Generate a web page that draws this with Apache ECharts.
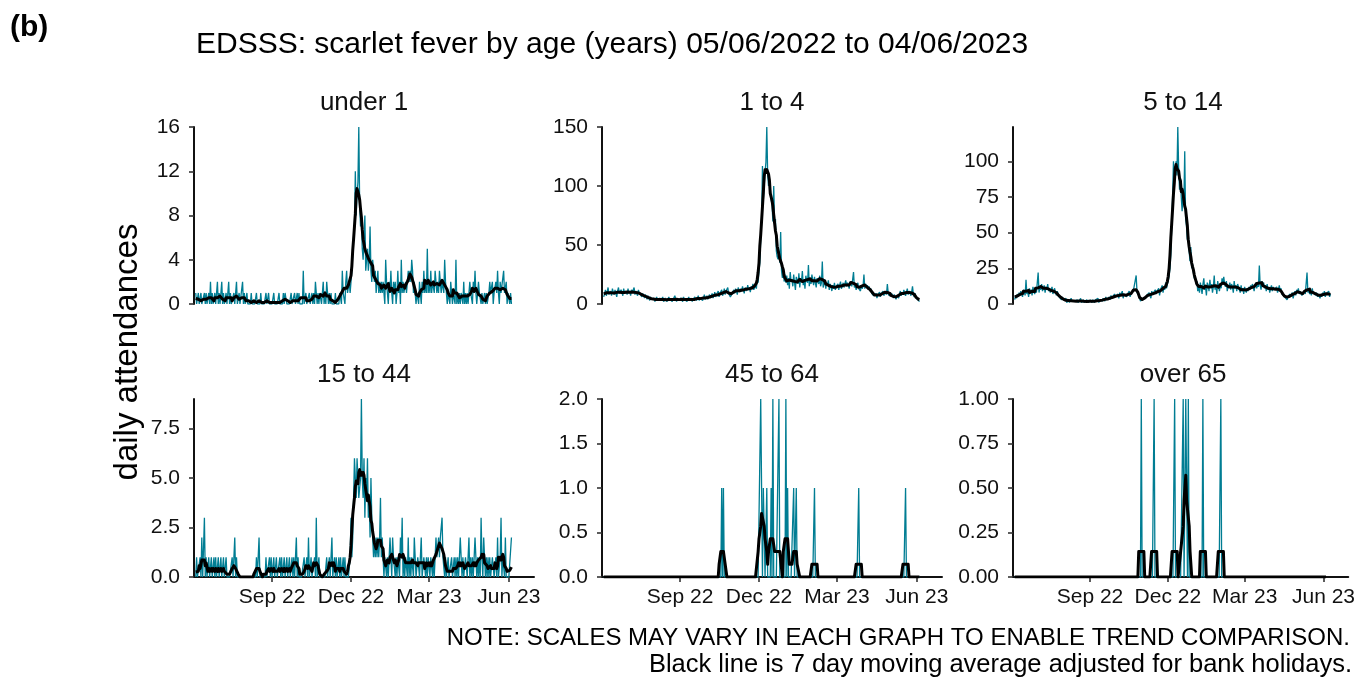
<!DOCTYPE html>
<html>
<head>
<meta charset="utf-8">
<script src="https://cdn.jsdelivr.net/npm/echarts@6/dist/echarts.min.js"></script>
<style>
  html, body { margin: 0; padding: 0; background: #ffffff; }
  #chart { width: 1358px; height: 677px; }
</style>
</head>
<body>
<div id="chart"></div>
<script>
// Daily scarlet fever attendances, day 0 = 05/06/2022 ... day 364 = 04/06/2023.
// Each row is one calendar month (June 2022 starts on the 5th, June 2023 ends on the 4th).
const under1 = [
  1,0,0,1,0,0,1,0,0,0,1,0,1,0,0,1,0,2,0,1,0,0,1,0,0,2,
  0,1,0,0,2,0,1,0,0,1,0,0,2,0,1,0,0,0,1,0,1,2,0,0,1,0,0,0,2,0,1,
  0,0,1,0,0,0,0,1,0,0,0,0,0,1,0,0,0,0,1,0,0,0,0,0,1,0,0,1,0,0,0,
  0,0,1,0,0,0,0,0,1,0,0,0,0,1,0,1,1,0,0,0,0,0,1,0,0,0,1,0,0,1,
  0,1,0,0,0,0,3,0,0,1,0,0,0,1,0,0,1,0,1,0,2,1,0,1,0,1,1,0,1,2,0,
  1,0,2,1,0,1,0,1,0,0,0,0,1,0,0,0,0,1,1,0,3,1,1,0,2,3,1,1,2,1,
  2,3,3,6,7,12,8,10,11,16,9,7,8,5,4,6,8,3,4,5,3,4,7,3,2,4,3,2,3,1,2,
  3,1,2,1,2,1,2,1,0,4,2,1,0,2,1,3,1,0,2,1,2,0,1,3,1,2,0,4,1,2,1,
  1,2,1,2,3,2,3,2,4,3,1,2,1,0,1,1,0,2,1,0,2,1,3,1,2,1,5,1,
  2,1,3,1,2,2,1,3,2,1,2,1,3,2,1,2,2,1,4,2,1,0,1,1,0,2,1,0,1,1,0,
  4,0,1,0,1,0,1,1,0,2,0,1,0,1,0,1,2,1,1,0,2,1,3,1,0,1,2,1,1,0,
  1,0,0,1,0,1,0,0,1,2,1,1,2,0,1,1,2,1,3,1,0,2,1,1,1,3,1,1,2,0,1,
  1,0,1,0
];

const age1to4 = [
  6,9,12,7,10,14,8,9,11,7,13,10,8,12,9,6,11,14,9,8,12,10,7,13,9,11,
  10,8,13,9,11,7,12,10,9,14,8,11,10,7,12,9,10,8,6,9,7,5,8,6,4,7,5,3,6,4,5,
  3,5,2,4,6,3,4,2,5,3,4,6,2,3,5,4,2,3,6,4,3,5,2,4,3,7,4,2,5,3,4,
  3,5,4,2,6,4,3,5,2,4,6,3,4,5,2,4,3,6,5,3,4,7,3,5,4,6,3,5,8,4,
  5,7,4,6,8,5,6,9,5,7,10,6,8,7,11,6,9,8,12,7,9,13,8,11,10,14,9,8,6,7,9,
  10,12,9,13,11,8,14,12,10,13,11,15,12,9,14,13,11,16,12,14,10,15,13,17,12,14,16,13,23,18,
  28,35,55,70,117,88,100,112,120,150,110,100,105,98,88,85,70,100,68,72,45,40,38,45,35,61,28,22,30,19,25,
  18,24,16,22,13,27,19,21,15,25,18,12,23,20,17,26,14,22,19,28,16,21,13,24,20,18,33,15,22,17,25,
  20,16,23,18,14,22,19,17,24,15,18,36,14,17,21,13,18,16,20,12,17,15,11,16,13,18,12,15,
  14,17,12,16,19,13,15,18,14,17,20,15,18,16,13,19,17,15,21,27,14,16,12,15,18,13,14,11,16,13,15,
  25,13,17,14,16,12,15,11,13,9,10,7,8,6,9,5,8,7,10,6,9,8,11,7,10,9,8,17,9,7,
  8,6,9,7,5,8,6,4,7,8,5,9,11,7,10,8,12,9,7,10,13,8,9,11,7,10,15,8,6,9,5,
  4,6,3,2
];

const age5to14 = [
  3,6,4,7,5,8,6,9,7,5,10,8,6,17,7,9,5,11,8,10,6,12,9,7,10,8,
  9,22,8,12,10,14,9,11,13,8,12,10,14,9,11,8,10,12,7,9,11,8,6,9,7,5,6,4,3,5,3,
  3,2,4,1,2,3,1,2,4,2,1,3,2,1,2,3,1,2,2,4,1,2,3,1,2,1,3,2,1,2,3,
  2,1,3,2,1,3,2,2,4,1,3,2,3,2,4,3,2,5,3,4,2,5,3,6,4,5,3,7,5,6,
  5,7,4,8,6,5,9,4,7,6,8,5,7,6,9,5,7,8,6,10,9,9,20,8,8,6,4,2,3,1,4,
  3,5,4,6,7,5,8,6,4,9,7,8,6,10,7,9,8,11,6,10,9,13,8,12,10,15,11,14,16,20,
  25,35,55,75,100,85,90,100,90,124,95,80,88,75,65,78,70,107,60,55,45,50,38,30,40,25,28,22,18,20,14,
  16,9,13,8,15,11,7,14,18,10,12,6,15,13,9,17,11,14,8,12,20,10,13,7,16,12,9,14,11,18,15,
  19,14,12,16,9,13,11,15,10,14,12,8,16,11,13,9,14,12,10,8,13,9,11,7,12,10,8,11,
  9,12,10,13,11,14,12,9,13,15,11,14,12,27,13,10,16,12,15,11,13,9,14,10,12,8,11,13,9,12,10,
  11,9,12,8,10,13,9,11,7,8,6,5,4,6,3,5,4,7,5,6,8,4,7,9,6,10,8,11,7,9,
  8,6,7,5,9,7,6,22,8,10,7,9,6,11,8,7,9,6,8,5,7,6,4,7,5,8,6,9,5,7,8,
  6,9,5,7
];

const age15to44 = [
  0,1,0,0,0,1,0,2,0,0,3,0,1,0,0,1,0,0,1,0,0,1,0,1,0,0,
  1,0,0,1,0,0,1,0,0,1,0,0,0,0,0,0,1,0,0,2,0,1,0,0,0,0,0,0,0,0,0,
  0,0,0,0,0,0,0,0,0,0,0,0,0,1,0,0,2,0,0,0,0,0,0,0,1,0,0,0,1,0,1,
  0,0,1,0,0,1,0,0,0,1,0,1,0,0,1,0,0,1,0,0,1,0,0,1,0,1,0,1,2,0,
  1,0,0,0,0,0,0,1,0,0,1,0,2,0,0,1,0,0,0,1,0,3,0,0,1,0,0,0,0,0,0,
  0,0,1,0,0,1,0,1,2,0,0,1,0,1,0,0,1,0,1,0,0,1,0,1,0,0,0,0,0,1,
  3,1,2,4,6,5,4,6,5,4,4,5,9,5,4,6,3,5,4,6,3,4,2,5,3,2,1,2,1,2,1,
  2,1,2,4,1,2,1,0,1,1,0,1,0,1,2,1,0,2,1,1,0,1,0,1,1,0,2,1,3,0,1,
  0,1,1,0,2,0,1,0,1,1,0,2,1,0,0,1,1,0,1,2,0,0,1,1,0,1,0,1,
  1,0,1,1,0,1,0,1,2,1,1,2,1,2,2,3,1,1,0,1,0,0,1,0,0,0,1,0,0,1,0,
  1,0,1,0,0,2,1,0,1,0,0,1,1,0,0,2,0,1,0,1,0,0,2,1,0,1,0,1,0,3,
  1,0,2,1,0,1,0,1,0,1,0,0,1,1,0,0,1,0,2,0,0,1,3,0,1,1,0,2,0,0,0,
  0,0,0,2
];

// Sparse age groups: [day, attendances]; every other day had none.
const age45to64Days = [
  [136,1],[138,1],[181,2],[182,1],[184,1],[185,1],[188,1],[193,1],[195,2],
  [202,2],[210,2],[212,1],[219,1],[222,1],[243,1],[294,1],[348,1]
];
const over65Days = [
  [148,1],[163,1],[187,1],[197,1],[200,1],[201,1],[203,1],[220,1],[241,1]
];

const panelTitles = ['under 1', '1 to 4', '5 to 14', '15 to 44', '45 to 64', 'over 65'];

// x ticks: first of Sep 2022, Dec 2022, Mar 2023, Jun 2023 as day numbers
const xTickDays = [88, 179, 269, 361];
const xTickLabels = ['Sep 22', 'Dec 22', 'Mar 23', 'Jun 23'];

const yTicksUnder1 = [0, 4, 8, 12, 16];
const yTicks1to4 = [0, 50, 100, 150];
const yTicks5to14 = [0, 25, 50, 75, 100];
const yTicks15to44 = [0, 2.5, 5, 7.5];
const yTicks45to64 = [0, 0.5, 1, 1.5, 2];
const yTicksOver65 = [0, 0.25, 0.5, 0.75, 1];

// ---- helpers ----
const nDays = under1.length;

function expandDays(list) {
  const out = new Array(nDays).fill(0);
  list.forEach(([day, count]) => { out[day] = count; });
  return out;
}

// centred 7 day moving average (shorter window at the ends)
function movingAverage7(values) {
  return values.map((_, i) => {
    let sum = 0, n = 0;
    for (let k = i - 3; k <= i + 3; k++) {
      if (k >= 0 && k < values.length) { sum += values[k]; n++; }
    }
    return sum / n;
  });
}

const panels = [
  { values: under1, ticks: yTicksUnder1, decimals: 0 },
  { values: age1to4, ticks: yTicks1to4, decimals: 0 },
  { values: age5to14, ticks: yTicks5to14, decimals: 0 },
  { values: age15to44, ticks: yTicks15to44, decimals: 1 },
  { values: expandDays(age45to64Days), ticks: yTicks45to64, decimals: 1 },
  { values: expandDays(over65Days), ticks: yTicksOver65, decimals: 2 }
];

// ---- layout ----
const FONT = '"Liberation Sans", Arial, Helvetica, sans-serif';
const TEXT = '#111111';
const TEAL = '#007d93';
const colLeft = [194, 602, 1013];
const panelWidth = 340;
const rowTop = [127, 399];
const rowHeight = [177, 178];
const xMin = -2, xMax = 390;

const grids = [], xAxes = [], yAxes = [], series = [], graphics = [];

panels.forEach((p, i) => {
  const row = Math.floor(i / 3), col = i % 3;
  const bottomRow = row === 1;
  grids.push({ left: colLeft[col], top: rowTop[row], width: panelWidth, height: rowHeight[row], containLabel: false });

  xAxes.push({
    gridIndex: i, type: 'value', min: xMin, max: xMax,
    splitLine: { show: false },
    axisLine: { show: bottomRow, onZero: false, lineStyle: { color: '#111', width: 2 } },
    axisTick: { show: bottomRow, customValues: xTickDays, length: 5, lineStyle: { color: '#333', width: 1.6 } },
    axisLabel: {
      show: bottomRow, customValues: xTickDays, margin: 10,
      fontFamily: FONT, fontSize: 21, color: TEXT,
      formatter: v => xTickLabels[xTickDays.indexOf(v)] || ''
    }
  });

  yAxes.push({
    gridIndex: i, type: 'value', min: 0, max: 'dataMax',
    splitLine: { show: false },
    axisLine: { show: true, onZero: false, lineStyle: { color: '#111', width: 2 } },
    axisTick: { show: true, customValues: p.ticks, length: 5, lineStyle: { color: '#333', width: 1.6 } },
    axisLabel: {
      customValues: p.ticks, margin: 14,
      fontFamily: FONT, fontSize: 21, color: TEXT,
      formatter: v => Number(v).toFixed(p.decimals)
    }
  });

  series.push({
    type: 'line', xAxisIndex: i, yAxisIndex: i,
    data: p.values.map((v, d) => [d, v]),
    showSymbol: false, sampling: false, z: 2,
    lineStyle: { color: TEAL, width: 1.3 }
  });
  series.push({
    type: 'line', xAxisIndex: i, yAxisIndex: i,
    data: movingAverage7(p.values).map((v, d) => [d, v]),
    showSymbol: false, z: 3,
    lineStyle: { color: '#000', width: 3, join: 'round' }
  });

  graphics.push({
    type: 'text', x: colLeft[col] + panelWidth / 2, y: rowTop[row] - 24,
    style: { text: panelTitles[i], font: '26px ' + FONT, fill: TEXT, align: 'center', verticalAlign: 'middle' }
  });
});

graphics.push(
  { type: 'text', x: 10, y: 28, style: { text: '(b)', font: 'bold 30px ' + FONT, fill: '#000', align: 'left', verticalAlign: 'middle' } },
  { type: 'text', x: 196, y: 45, style: { text: 'EDSSS: scarlet fever by age (years) 05/06/2022 to 04/06/2023', font: '30px ' + FONT, fill: '#000', align: 'left', verticalAlign: 'middle' } },
  { type: 'text', x: 128, y: 352, rotation: Math.PI / 2, style: { text: 'daily attendances', font: '33px ' + FONT, fill: '#000', align: 'center', verticalAlign: 'middle' } },
  { type: 'text', x: 1350, y: 638, style: { text: 'NOTE: SCALES MAY VARY IN EACH GRAPH TO ENABLE TREND COMPARISON.', font: '24px ' + FONT, fill: '#000', align: 'right', verticalAlign: 'middle' } },
  { type: 'text', x: 1352, y: 665, style: { text: 'Black line is 7 day moving average adjusted for bank holidays.', font: '25.5px ' + FONT, fill: '#000', align: 'right', verticalAlign: 'middle' } }
);

const chart = echarts.init(document.getElementById('chart'), null, { renderer: 'canvas' });
chart.setOption({
  animation: false,
  backgroundColor: '#ffffff',
  grid: grids,
  xAxis: xAxes,
  yAxis: yAxes,
  series: series,
  graphic: graphics
});
</script>
</body>
</html>
